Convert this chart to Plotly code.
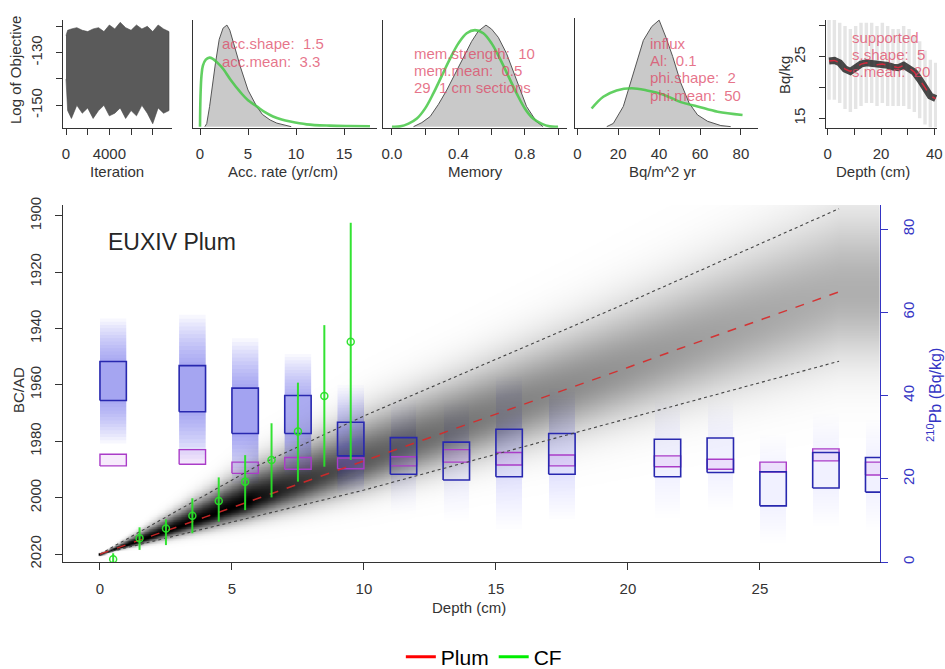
import numpy as np
import plotly.graph_objects as go

W, H = 945, 669
def X(px): return px / W
def Y(py): return 1 - py / H

# ---------------- data ----------------
# panel 1: MCMC trace envelope (log of objective)
iter_x = [0, 150, 500, 1000, 1500, 2000, 2500, 3000, 3500, 4000, 4500, 5000, 5500, 6000, 6500, 7000, 7500, 8000, 8500, 9000, 9500]
obj_hi = [-123.5, -121.5, -121, -120.5, -121.5, -122, -121, -120.5, -122, -119.5, -121, -118.5, -120.5, -121.5, -119.5, -121, -120, -122, -119.5, -121, -122]
obj_lo = [-140, -152, -155, -150, -153, -151, -155, -152, -150, -154, -153, -151, -155, -152, -154, -150, -153, -157, -151, -153, -152]

# panel 2: accumulation rate
acc_x = [0.5, 0.7, 1.0, 1.3, 1.6, 2.0, 2.4, 2.8, 3.1, 3.5, 4.2, 5.0, 5.9, 6.5, 7.3, 8.0, 8.7, 9.5]
acc_post = [0, 0.03, 0.2, 0.42, 0.62, 0.86, 0.97, 1.0, 0.95, 0.82, 0.59, 0.36, 0.2, 0.12, 0.066, 0.035, 0.016, 0]
acc_prior_x = [0, 0.05, 0.15, 0.3, 0.6, 1.0, 1.3, 1.8, 2.4, 3.2, 4.2, 5.0, 5.9, 6.8, 7.6, 8.5, 9.4, 11.1, 13.5, 15.5, 17.7]
acc_prior = [0, 0.3, 0.5, 0.6, 0.66, 0.68, 0.67, 0.63, 0.57, 0.46, 0.34, 0.26, 0.2, 0.14, 0.1, 0.07, 0.05, 0.023, 0.01, 0.006, 0.005]

# panel 3: memory
mem_x = [0.13, 0.18, 0.23, 0.28, 0.33, 0.38, 0.43, 0.48, 0.52, 0.566, 0.6, 0.64, 0.69, 0.75, 0.81, 0.87, 0.91]
mem_post = [0, 0.04, 0.1, 0.22, 0.36, 0.52, 0.69, 0.84, 0.94, 1.0, 0.96, 0.88, 0.72, 0.46, 0.2, 0.05, 0]
mem_prior_x = [0, 0.05, 0.1, 0.15, 0.2, 0.25, 0.3, 0.35, 0.4, 0.45, 0.5, 0.55, 0.6, 0.65, 0.7, 0.75, 0.8, 0.85, 0.9, 0.95, 1.0]
mem_prior = [0, 0.003, 0.03, 0.08, 0.18, 0.33, 0.5, 0.67, 0.82, 0.92, 0.95, 0.92, 0.82, 0.67, 0.5, 0.33, 0.18, 0.08, 0.03, 0.003, 0]

# panel 4: influx
phi_x = [14.4, 17.6, 22.5, 27.4, 32.3, 36.4, 40, 43.3, 46.6, 50.6, 54.7, 58.8, 63.7, 70.2, 75]
phi_post = [0, 0.03, 0.19, 0.5, 0.81, 0.94, 1.0, 0.84, 0.66, 0.41, 0.22, 0.11, 0.05, 0.01, 0]
phi_prior_x = [7.0, 12.7, 19.2, 26.6, 34, 42.2, 50.6, 58.8, 68.6, 80.8]
phi_prior = [0.17, 0.28, 0.34, 0.36, 0.34, 0.30, 0.23, 0.19, 0.14, 0.11]

# panel 5: supported 210Pb
sup_depth = [0.5, 2.5, 4.5, 6.5, 8.5, 10.5, 12.5, 14.5, 16.5, 18.5, 20.5, 22.5, 24.5, 26.5, 28.5, 30.5, 32.5, 34.5, 36.5, 38.5, 40.5]
sup_mean = [24.3, 24.4, 24.0, 23.0, 22.6, 23.2, 23.8, 24.0, 23.9, 23.7, 23.8, 23.6, 23.3, 23.2, 23.6, 23.2, 22.5, 21.3, 20.0, 18.6, 18.2]
sup_hi = [31, 31.5, 30.5, 30, 29.5, 30, 30.5, 30.5, 30.5, 30, 30.5, 30, 29.5, 29.5, 30, 29.5, 28.5, 27.5, 26, 24.5, 24]
sup_lo = [18, 18, 17.5, 16.5, 16, 16.5, 17, 17.5, 17.5, 17, 17.5, 17, 17, 17, 17, 16.5, 16, 15, 14, 13.5, 13.5]

# main: age-depth model (years AD)
age_depth = [0, 2, 4, 6, 8, 10, 12, 14, 16, 18, 20, 22, 24, 26, 28]
age_mean = [2020, 2013.5, 2006.8, 2000.2, 1993.6, 1987.0, 1980.3, 1973.6, 1967.0, 1960.4, 1953.8, 1947.0, 1940.3, 1933.6, 1927.0]
age_old = [2020, 2009.5, 1999, 1988.5, 1979.8, 1971, 1963, 1955, 1947, 1939, 1930.8, 1922.5, 1914.2, 1905.8, 1897.5]
age_young = [2020, 2015.5, 2011, 2006.5, 2002, 1997.3, 1992.2, 1987.1, 1982, 1977, 1971.9, 1966.8, 1961.7, 1956.6, 1951.6]

# main: 210Pb measurements (Bq/kg), sample depth intervals
pb_top = [0, 3, 5, 7, 9, 11, 13, 15, 17, 21, 23, 25, 27, 29]
pb_bot = [1, 4, 6, 8, 10, 12, 14, 16, 18, 22, 24, 26, 28, 30]
pb_hi = [48.2, 47.2, 41.8, 40.0, 33.6, 29.9, 28.8, 31.9, 30.9, 29.5, 29.8, 21.7, 26.3, 25.1]
pb_lo = [38.8, 36.1, 30.9, 30.9, 25.5, 21.1, 19.7, 20.5, 21.1, 20.5, 21.5, 13.5, 17.8, 16.8]
sup_box_hi = [25.9, 27.0, 24.0, 25.1, 25.0, 25.3, 27.0, 26.3, 25.7, 25.5, 24.7, 24.0, 27.2, 24.0]
sup_box_lo = [23.1, 23.5, 21.3, 22.3, 22.4, 23.1, 24.0, 23.3, 23.1, 22.9, 22.3, 21.6, 24.3, 20.9]

# main: CF model ages
cf_depth = [0.5, 1.5, 2.5, 3.5, 4.5, 5.5, 6.5, 7.5, 8.5, 9.5]
cf_mean = [2021.8, 2014.4, 2010.9, 2006.4, 2001.2, 1994.3, 1986.6, 1976.5, 1963.9, 1944.7]
cf_old = [2019.7, 2010.5, 2007.7, 2000.2, 1992.8, 1984.9, 1973.6, 1959.2, 1938.8, 1902.5]
cf_young = [2024.0, 2018.5, 2016.8, 2012.6, 2008.5, 2004.4, 1999.9, 1994.3, 1989.0, 1986.6]

# ---------------- styles ----------------
FONT = "Liberation Sans"
AX = "#333333"
BLUE_AX = "#3434c4"
GREEN = "rgba(40,225,40,0.95)"
RED_TXT = "rgba(222,70,100,0.75)"

fig = go.Figure()

# ---- main: grey age-depth cloud ----
dgrid = np.arange(0, 29.6, 0.1)
ygrid = np.arange(1890, 2023.01, 0.25)
m = np.interp(dgrid, age_depth, age_mean)
o = np.interp(dgrid, age_depth, age_old)
yv = np.interp(dgrid, age_depth, age_young)
sd_old = np.maximum((m - o) / 1.96, 0.25)
sd_young = np.maximum((yv - m) / 1.96, 0.25)
Yg = ygrid[:, None]
t = np.where(Yg < m, (m - Yg) / sd_old, (Yg - m) / sd_young)
peak = np.minimum(1.0, 17.0 / np.maximum(yv - o, 1e-3))
z = (peak * np.exp(-0.5 * (t / 1.3) ** 2)).astype(np.float32)
fig.add_trace(go.Heatmap(x=dgrid, y=ygrid, z=z, zmin=0, zmax=1, showscale=False,
                         colorscale=[[0, "rgba(0,0,0,0)"], [1, "rgba(0,0,0,1)"]],
                         zsmooth="best", hoverinfo="skip", xaxis="x", yaxis="y"))

# ---- main: 210Pb boxes (right axis) ----
layers = np.linspace(1.0, 3.2, 14)
for i in range(len(pb_top)):
    d0, d1 = pb_top[i], pb_bot[i]
    hi, lo = pb_hi[i], pb_lo[i]
    c, h = (hi + lo) / 2, (hi - lo) / 2
    strength = float(np.clip((c - 24) / 14, 0.12, 1.0))
    for k in layers:
        fig.add_trace(go.Scatter(x=[d0, d1, d1, d0, d0],
                                 y=[c - k * h, c - k * h, c + k * h, c + k * h, c - k * h],
                                 fill="toself", fillcolor=f"rgba(60,60,235,{0.045 * strength:.4f})",
                                 line=dict(width=0), mode="lines", hoverinfo="skip",
                                 showlegend=False, xaxis="x", yaxis="y2"))
    sh, sl = sup_box_hi[i], sup_box_lo[i]
    fig.add_trace(go.Scatter(x=[d0, d1, d1, d0, d0], y=[sl, sl, sh, sh, sl],
                             fill="toself", fillcolor="rgba(200,120,235,0.15)",
                             line=dict(color="rgb(170,60,200)", width=1.4), mode="lines",
                             hoverinfo="skip", showlegend=False, xaxis="x", yaxis="y2"))
    fig.add_trace(go.Scatter(x=[d0, d1, d1, d0, d0], y=[lo, lo, hi, hi, lo],
                             line=dict(color="rgb(40,40,175)", width=1.6), mode="lines",
                             hoverinfo="skip", showlegend=False, xaxis="x", yaxis="y2"))

# ---- main: model lines & CF (overlay y3 so they are on top) ----
fig.add_trace(go.Scatter(x=age_depth, y=age_old, mode="lines",
                         line=dict(color="#444444", width=1.1, dash="dot"),
                         hoverinfo="skip", showlegend=False, xaxis="x", yaxis="y3"))
fig.add_trace(go.Scatter(x=age_depth, y=age_young, mode="lines",
                         line=dict(color="#444444", width=1.1, dash="dot"),
                         hoverinfo="skip", showlegend=False, xaxis="x", yaxis="y3"))
fig.add_trace(go.Scatter(x=age_depth, y=age_mean, mode="lines",
                         line=dict(color="rgba(215,40,40,0.9)", width=1.5, dash="dash"),
                         hoverinfo="skip", showlegend=False, xaxis="x", yaxis="y3"))
cf_plus = [yy - mm for yy, mm in zip(cf_young, cf_mean)]
cf_minus = [mm - oo for mm, oo in zip(cf_mean, cf_old)]
fig.add_trace(go.Scatter(x=cf_depth, y=cf_mean, mode="markers",
                         marker=dict(symbol="circle-open", size=7, color=GREEN, line=dict(width=1.5)),
                         error_y=dict(type="data", symmetric=False, array=cf_plus, arrayminus=cf_minus,
                                      color=GREEN, thickness=2, width=0),
                         hoverinfo="skip", showlegend=False, xaxis="x", yaxis="y3"))

# legend entries
fig.add_trace(go.Scatter(x=[None], y=[None], mode="lines", name="Plum",
                         line=dict(color="#ff0000", width=3), xaxis="x", yaxis="y3"))
fig.add_trace(go.Scatter(x=[None], y=[None], mode="lines", name="CF",
                         line=dict(color="#00ee00", width=3), xaxis="x", yaxis="y3"))

# ---- panel 1: trace ----
fig.add_trace(go.Scatter(x=iter_x + iter_x[::-1], y=obj_hi + obj_lo[::-1], fill="toself",
                         fillcolor="#5a5a5a", line=dict(color="#4a4a4a", width=0.6), mode="lines",
                         hoverinfo="skip", showlegend=False, xaxis="x2", yaxis="y4"))

# ---- panels 2-4: posteriors (grey) and priors (green) ----
for (px_, py_, qx, qy, xa, ya) in [(acc_x, acc_post, acc_prior_x, acc_prior, "x3", "y5"),
                                   (mem_x, mem_post, mem_prior_x, mem_prior, "x4", "y6"),
                                   (phi_x, phi_post, phi_prior_x, phi_prior, "x5", "y7")]:
    fig.add_trace(go.Scatter(x=px_, y=py_, fill="tozeroy", fillcolor="#c9c9c9", mode="lines",
                             line=dict(color="#555555", width=1), hoverinfo="skip",
                             showlegend=False, xaxis=xa, yaxis=ya))
    fig.add_trace(go.Scatter(x=qx, y=qy, mode="lines",
                             line=dict(color="rgba(70,200,70,0.85)", width=2.6, shape="spline"),
                             hoverinfo="skip", showlegend=False, xaxis=xa, yaxis=ya))

# ---- panel 5: supported ----
fig.add_trace(go.Bar(x=sup_depth, y=[h_ - l_ for h_, l_ in zip(sup_hi, sup_lo)], base=sup_lo,
                     width=1.3, marker=dict(color="rgba(0,0,0,0.10)", line=dict(width=0)),
                     hoverinfo="skip", showlegend=False, xaxis="x6", yaxis="y8"))
fig.add_trace(go.Scatter(x=sup_depth, y=sup_mean, mode="lines",
                         line=dict(color="rgba(15,15,15,0.75)", width=7),
                         hoverinfo="skip", showlegend=False, xaxis="x6", yaxis="y8"))
fig.add_trace(go.Scatter(x=sup_depth, y=sup_mean, mode="lines",
                         line=dict(color="rgba(225,40,60,0.9)", width=1.5, dash="dash"),
                         hoverinfo="skip", showlegend=False, xaxis="x6", yaxis="y8"))

# ---------------- axes ----------------
def ax(**kw):
    base = dict(showline=True, linecolor=AX, linewidth=1.2, ticks="outside", ticklen=6,
                tickcolor=AX, tickwidth=1.2, tickfont=dict(size=15, color="#333333", family=FONT),
                showgrid=False, zeroline=False, mirror=False, ticklabelstandoff=6, fixedrange=True)
    base.update(kw)
    return base

noy = dict(showticklabels=False, ticks="")
top_dom = [Y(127.7), Y(20)]

fig.update_layout(
    width=W, height=H, margin=dict(l=0, r=0, t=0, b=0, autoexpand=False),
    paper_bgcolor="white", plot_bgcolor="white",
    font=dict(family=FONT, color="#222222"),
    showlegend=True, hovermode=False, barmode="overlay",
    legend=dict(orientation="h", x=0.512, xanchor="center", y=Y(657), yanchor="middle",
                font=dict(size=21, family=FONT, color="black"), itemwidth=30,
                bgcolor="rgba(0,0,0,0)"),
    xaxis=ax(domain=[X(63), X(880)], range=[-1.4, 29.55], anchor="y",
             tickvals=[0, 5, 10, 15, 20, 25], ticklen=7, ticklabelstandoff=6),
    yaxis=ax(domain=[Y(562), Y(205)], range=[2022.8, 1896.2], anchor="x",
             tickvals=[1900, 1920, 1940, 1960, 1980, 2000, 2020], tickangle=-90, ticklen=7,
             ticklabelstandoff=8),
    yaxis2=ax(domain=[Y(562), Y(205)], range=[0, 85.8], anchor="x", overlaying="y", side="right",
              tickvals=[0, 20, 40, 60, 80], tickangle=-90, ticklen=7, linecolor=BLUE_AX,
              tickcolor=BLUE_AX, tickfont=dict(size=15, color=BLUE_AX, family=FONT),
              ticklabelstandoff=8),
    yaxis3=dict(overlaying="y", range=[2022.8, 1896.2], anchor="x", visible=False, fixedrange=True),
    xaxis2=ax(domain=[X(63.3), X(171.7)], range=[-250, 9750], anchor="y4",
              tickvals=[0, 2000, 4000, 6000, 8000], ticktext=["0", "", "4000", "", ""]),
    yaxis4=ax(domain=top_dom, range=[-158.5, -117.6], anchor="x2",
              tickvals=[-120, -130, -140, -150], ticktext=["", "-130", "", "-150"], tickangle=-90,
              ticklabelstandoff=8),
    xaxis3=ax(domain=[X(193.3), X(376.7)], range=[-0.70, 18.4], anchor="y5", tickvals=[0, 5, 10, 15]),
    yaxis5=ax(domain=top_dom, range=[-0.01, 1.05], anchor="x3", **noy),
    xaxis4=ax(domain=[X(383.3), X(566.7)], range=[-0.052, 1.052], anchor="y6",
              tickvals=[0, 0.2, 0.4, 0.6, 0.8, 1.0], ticktext=["0.0", "", "0.4", "", "0.8", ""]),
    yaxis6=ax(domain=top_dom, range=[-0.01, 1.05], anchor="x4", **noy),
    xaxis5=ax(domain=[X(575), X(758.3)], range=[-1.13, 88.5], anchor="y7", tickvals=[0, 20, 40, 60, 80]),
    yaxis7=ax(domain=[Y(127.7), Y(18)], range=[-0.01, 1.02], anchor="x5", **noy),
    xaxis6=ax(domain=[X(825.7), X(937)], range=[-0.75, 41.0], anchor="y8",
              tickvals=[0, 10, 20, 30, 40], ticktext=["0", "", "20", "", "40"]),
    yaxis8=ax(domain=top_dom, range=[13.47, 30.96], anchor="x6",
              tickvals=[15, 20, 25, 30], ticktext=["15", "", "25", ""], tickangle=-90,
              ticklabelstandoff=8),
)

# ---------------- text ----------------
ann = []
def txt(x, y, s, size=15, color="#333333", angle=0, xanchor="center"):
    ann.append(dict(x=X(x), y=Y(y), xref="paper", yref="paper", text=s, showarrow=False,
                    textangle=angle, xanchor=xanchor, yanchor="middle",
                    font=dict(size=size, color=color, family=FONT)))

txt(15, 70, "Log of Objective", angle=-90)
txt(117, 172, "Iteration")
txt(283, 172, "Acc. rate (yr/cm)")
txt(475, 172, "Memory")
txt(662, 172, "Bq/m^2 yr")
txt(873, 172, "Depth (cm)")
txt(784, 75, "Bq/kg", angle=-90)
txt(469, 607, "Depth (cm)")
txt(18, 390, "BC/AD", angle=-90)
txt(934, 395, "<sup>210</sup>Pb (Bq/kg)", size=16, color=BLUE_AX, angle=-90)
txt(172, 242, "EUXIV Plum", size=23, color="#262626")

for yy, s in [(43.3, "acc.shape:  1.5"), (61.7, "acc.mean:  3.3")]:
    txt(220, yy, s, size=15, color=RED_TXT, xanchor="left")
for yy, s in [(53.3, "mem.strength:  10"), (70.7, "mem.mean:  0.5"), (87.7, "29  1 cm sections")]:
    txt(412, yy, s, size=15, color=RED_TXT, xanchor="left")
for yy, s in [(43.3, "influx"), (60.7, "Al:  0.1"), (77.7, "phi.shape:  2"), (95, "phi.mean:  50")]:
    txt(648, yy, s, size=15, color=RED_TXT, xanchor="left")
for yy, s in [(37.3, "supported"), (55, "s.shape:  5"), (71.7, "s.mean:  20")]:
    txt(850, yy, s, size=15, color=RED_TXT, xanchor="left")

fig.update_layout(annotations=ann)
fig.write_html("out.html", config={"displayModeBar": False},
               post_script="document.body.style.margin='0px';document.body.style.padding='0px';"
                           "document.body.style.overflow='hidden';")
